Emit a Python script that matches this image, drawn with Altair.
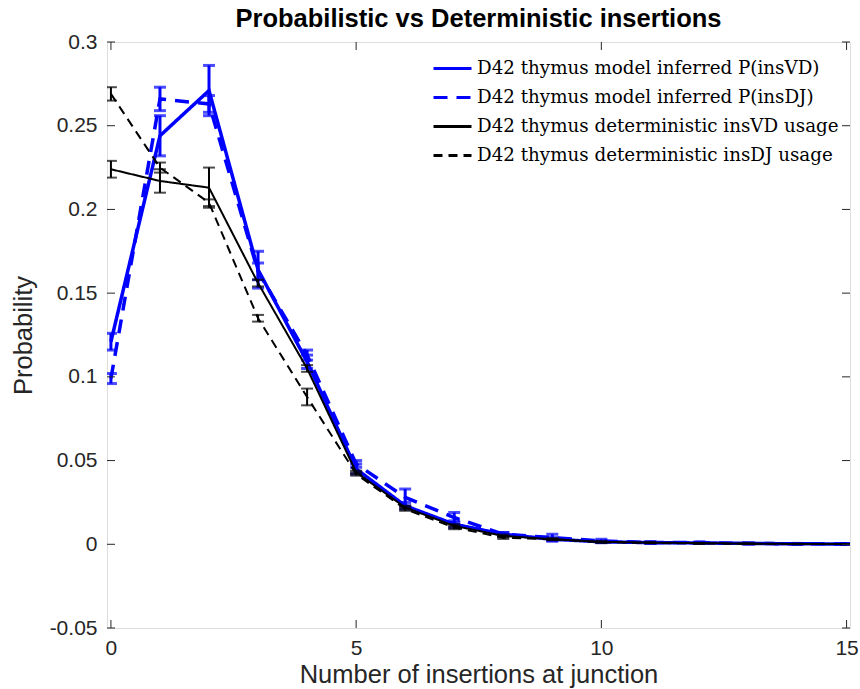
import altair as alt
import pandas as pd

x_vals = list(range(16))

series_names = [
    "D42 thymus model inferred P(insVD)",
    "D42 thymus model inferred P(insDJ)",
    "D42 thymus deterministic insVD usage",
    "D42 thymus deterministic insDJ usage",
]

model_vd = [0.121, 0.244, 0.271, 0.164, 0.109, 0.045, 0.023, 0.012, 0.006, 0.003, 0.0015, 0.001, 0.0008, 0.0005, 0.0003, 0.0002]
model_vd_err = [0.005, 0.012, 0.015, 0.011, 0.004, 0.003, 0.002, 0.002, 0.001, 0.001, 0.0005, 0.0004, 0.0003, 0.0002, 0.0002, 0.0001]

model_dj = [0.099, 0.266, 0.263, 0.163, 0.113, 0.048, 0.028, 0.016, 0.006, 0.004, 0.002, 0.001, 0.001, 0.0005, 0.0003, 0.0002]
model_dj_err = [0.003, 0.007, 0.005, 0.005, 0.003, 0.002, 0.005, 0.003, 0.001, 0.002, 0.001, 0.0005, 0.0004, 0.0003, 0.0002, 0.0001]

det_vd = [0.224, 0.217, 0.213, 0.156, 0.105, 0.043, 0.022, 0.011, 0.005, 0.003, 0.0015, 0.001, 0.0007, 0.0004, 0.0002, 0.0001]
det_vd_err = [0.005, 0.007, 0.012, 0.002, 0.002, 0.001, 0.001, 0.001, 0.0008, 0.0005, 0.0003, 0.0002, 0.0002, 0.0001, 0.0001, 0.0001]

det_dj = [0.269, 0.225, 0.204, 0.135, 0.088, 0.042, 0.021, 0.010, 0.004, 0.003, 0.0012, 0.0008, 0.0005, 0.0003, 0.0002, 0.0001]
det_dj_err = [0.004, 0.003, 0.002, 0.002, 0.005, 0.001, 0.001, 0.001, 0.0008, 0.0005, 0.0003, 0.0002, 0.0002, 0.0001, 0.0001, 0.0001]

x_ticks = [0, 5, 10, 15]
y_ticks = [-0.05, 0, 0.05, 0.1, 0.15, 0.2, 0.25, 0.3]

colors = ["#0000ff", "#0000ff", "#000000", "#000000"]
dashes = [[1, 0], [14, 9], [1, 0], [9, 6]]
groups = ["model", "model", "det", "det"]

rows = []
for name, vals, errs, grp in zip(
    series_names,
    [model_vd, model_dj, det_vd, det_dj],
    [model_vd_err, model_dj_err, det_vd_err, det_dj_err],
    groups,
):
    for xv, v, e in zip(x_vals, vals, errs):
        rows.append({"series": name, "x": xv, "y": v, "lo": v - e, "hi": v + e, "group": grp})
df = pd.DataFrame(rows)

W, H = 743, 586
xscale = alt.Scale(domain=[-0.08, 15.07], nice=False, zero=False)
yscale = alt.Scale(domain=[-0.05, 0.3], nice=False, zero=False)

axis_common = dict(
    labelFont="Liberation Sans",
    titleFont="Liberation Sans",
    labelFontSize=21,
    titleFontSize=25.5,
    labelColor="#262626",
    titleColor="#262626",
    titleFontWeight="normal",
    grid=False,
    domain=False,
    ticks=False,
)

base = alt.Chart(df)

x_enc = alt.X("x:Q", scale=xscale,
              axis=alt.Axis(values=x_ticks, title="Number of insertions at junction",
                            labelPadding=9, titlePadding=4, **axis_common))
y_enc = alt.Y("y:Q", scale=yscale,
              axis=alt.Axis(values=y_ticks, title="Probability",
                            labelExpr="replace(format(datum.value, '.2~f'), '\u2212', '-')",
                            labelPadding=10, titlePadding=13, **axis_common))
color_enc = alt.Color("series:N", scale=alt.Scale(domain=series_names, range=colors),
                      sort=series_names,
                      legend=alt.Legend(
                          title=None, orient="none", legendX=325, legendY=6,
                          symbolType="stroke", symbolSize=1444, symbolStrokeWidth=3,
                          labelFont="DejaVu Serif", labelFontSize=18.3, labelColor="#000000",
                          rowPadding=-25, labelOffset=4, labelLimit=600, padding=0,
                      ))
dash_enc = alt.StrokeDash("series:N", scale=alt.Scale(domain=series_names, range=dashes),
                          sort=series_names)


def line_layer(grp, sw):
    return base.transform_filter(alt.datum.group == grp).mark_line(
        strokeWidth=sw, clip=True).encode(
        x=x_enc, y=y_enc, color=color_enc, strokeDash=dash_enc,
        detail="series:N", order=alt.Order("x:Q"))


def err_layers(grp, color, sw):
    sub = base.transform_filter(alt.datum.group == grp)
    rule = sub.mark_rule(color=color, strokeWidth=sw, clip=True).encode(
        x="x:Q", y="lo:Q", y2="hi:Q")
    cap_lo = sub.mark_tick(color=color, orient="horizontal", size=12, thickness=sw,
                           clip=True).encode(x="x:Q", y="lo:Q")
    cap_hi = sub.mark_tick(color=color, orient="horizontal", size=12, thickness=sw,
                           clip=True).encode(x="x:Q", y="hi:Q")
    return [rule, cap_lo, cap_hi]


tick_df_x = pd.DataFrame({"t": x_ticks})
tick_df_y = pd.DataFrame({"t": y_ticks})
tick_color = "#262626"
xt_bottom = alt.Chart(tick_df_x).mark_rule(color=tick_color).encode(
    x=alt.X("t:Q", scale=xscale), y=alt.value(H), y2=alt.value(H - 8))
xt_top = alt.Chart(tick_df_x).mark_rule(color=tick_color).encode(
    x=alt.X("t:Q", scale=xscale), y=alt.value(0), y2=alt.value(8))
yt_left = alt.Chart(tick_df_y).mark_rule(color=tick_color).encode(
    y=alt.Y("t:Q", scale=yscale), x=alt.value(0), x2=alt.value(8))
yt_right = alt.Chart(tick_df_y).mark_rule(color=tick_color).encode(
    y=alt.Y("t:Q", scale=yscale), x=alt.value(W), x2=alt.value(W - 8))

layers = ([line_layer("model", 3.5)] + err_layers("model", "#0000ff", 3)
          + [line_layer("det", 2)] + err_layers("det", "#000000", 2)
          + [xt_bottom, xt_top, yt_left, yt_right])

chart = alt.layer(*layers).properties(
    width=W,
    height=H,
    title=alt.Title("Probabilistic vs Deterministic insertions",
                    font="Liberation Sans", fontSize=25.5, fontWeight="bold",
                    color="#000000", offset=-1),
    autosize=alt.AutoSizeParams(type="none"),
    padding={"left": 107, "top": 42, "right": 10, "bottom": 61},
).configure_view(
    stroke="#262626", strokeWidth=1
).configure(background="white")

chart.save("out.html", embed_options={"renderer": "svg", "actions": False})
